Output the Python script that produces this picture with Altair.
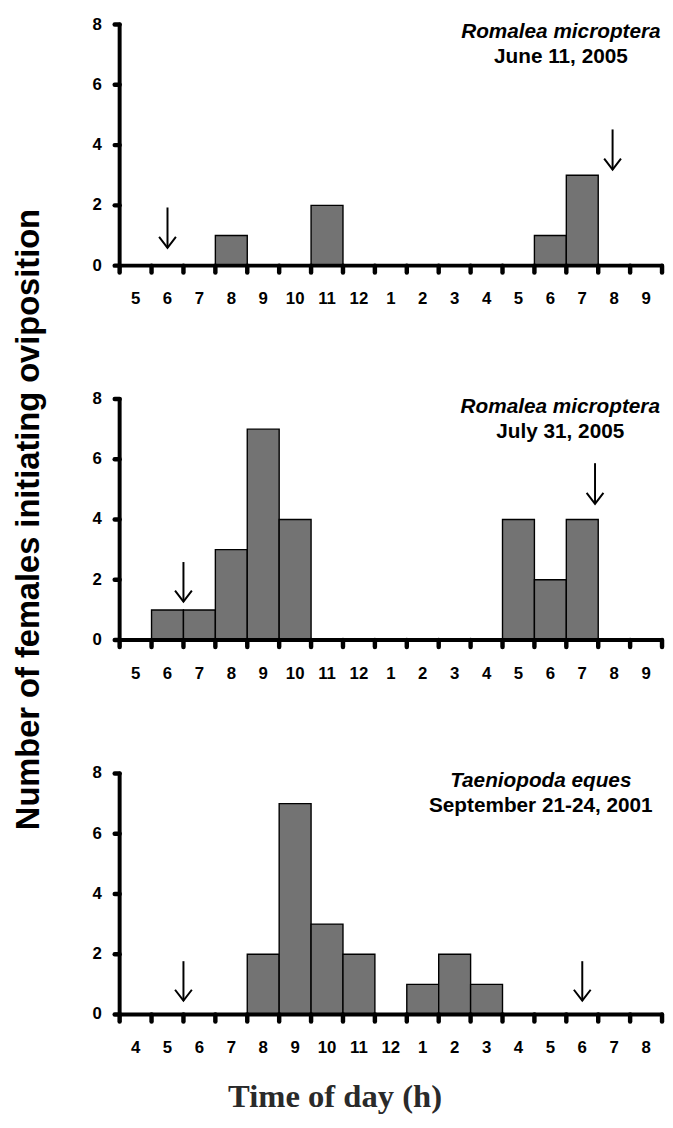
import altair as alt
import pandas as pd

# ---------------- data ----------------
labels_a = ["5", "6", "7", "8", "9", "10", "11", "12", "1", "2", "3", "4", "5", "6", "7", "8", "9"]
labels_c = ["4", "5", "6", "7", "8", "9", "10", "11", "12", "1", "2", "3", "4", "5", "6", "7", "8"]

counts_1 = [0, 0, 0, 1, 0, 0, 2, 0, 0, 0, 0, 0, 0, 1, 3, 0, 0]
counts_2 = [0, 1, 1, 3, 7, 4, 0, 0, 0, 0, 0, 0, 4, 2, 4, 0, 0]
counts_3 = [0, 0, 0, 0, 2, 7, 3, 2, 0, 1, 2, 1, 0, 0, 0, 0, 0]

# arrows (sunrise / sunset): x in bin units, y in count units
arrow_x_1 = [1.5, 15.45]
arrow_top_1 = [1.93, 4.52]
arrow_tip_1 = [0.59, 3.19]
arrow_x_2 = [2.0, 14.9]
arrow_top_2 = [2.59, 5.87]
arrow_tip_2 = [1.28, 4.52]
arrow_x_3 = [2.0, 14.5]
arrow_top_3 = [1.77, 1.77]
arrow_tip_3 = [0.46, 0.46]

species = ["Romalea microptera", "Romalea microptera", "Taeniopoda eques"]
dates = ["June 11, 2005", "July 31, 2005", "September 21-24, 2001"]
title_x = [13.83, 13.81, 13.2]

y_ticks = [0, 2, 4, 6, 8]
y_max = 8
y_title = "Number of females initiating oviposition"
x_title = "Time of day (h)"

# ---------------- layout constants ----------------
W = 549
H = 244
NB = 17
SANS = "Liberation Sans"
SERIF = "Liberation Serif"
CHEVRON = "M-1,-1.3L0,0L1,-1.3"


def panel(labels, counts, ax, atop, atip, sp, date, tx, ytitle=False, xtitle=False):
    xs = alt.Scale(domain=[0, NB], nice=False)
    ys = alt.Scale(domain=[0, y_max], nice=False)

    def X(f):
        return alt.X(f, scale=xs, axis=None)

    def Y(f):
        return alt.Y(f, scale=ys, axis=None)

    bins = pd.DataFrame({
        "start": list(range(NB)),
        "end": [i + 1 for i in range(NB)],
        "count": counts,
        "base": [0] * NB,
    })
    bars = alt.Chart(bins).transform_filter("datum.count > 0").mark_rect(
        color="#737373", stroke="black", strokeWidth=1.4, opacity=1
    ).encode(x=X("start:Q"), x2="end:Q", y=Y("count:Q"), y2="base:Q")

    arr = pd.DataFrame({"x": ax, "top": atop, "tip": atip})
    shafts = alt.Chart(arr).mark_rule(color="black", strokeWidth=2).encode(
        x=X("x:Q"), y=Y("top:Q"), y2="tip:Q")
    heads = alt.Chart(arr).mark_point(
        shape=CHEVRON, size=289, filled=False, color="black", strokeWidth=2,
        opacity=1, strokeJoin="miter"
    ).encode(x=X("x:Q"), y=Y("tip:Q"))

    # hand-drawn axes (lines, ticks, labels) through the same scales
    frame = pd.DataFrame({"x0": [0], "x1": [NB], "y0": [0], "y1": [y_max]})
    xline = alt.Chart(frame).mark_rule(color="black", strokeWidth=4, strokeCap="round").encode(
        x=X("x0:Q"), x2="x1:Q", y=Y("y0:Q"))
    yline = alt.Chart(frame).mark_rule(color="black", strokeWidth=4, strokeCap="round").encode(
        x=X("x0:Q"), y=Y("y0:Q"), y2="y1:Q")

    xt = pd.DataFrame({"v": list(range(NB + 1))})
    xticks = alt.Chart(xt).mark_rule(color="black", strokeWidth=4.5, strokeCap="round").encode(
        x=X("v:Q"), y=alt.value(H), y2=alt.value(H + 7))
    yt = pd.DataFrame({"v": y_ticks})
    yticks = alt.Chart(yt).mark_rule(color="black", strokeWidth=4.5, strokeCap="round").encode(
        y=Y("v:Q"), x=alt.value(0), x2=alt.value(-5))

    xl = pd.DataFrame({"pos": [i + 0.5 for i in range(NB)], "lab": labels})
    xlabels = alt.Chart(xl).mark_text(
        font=SANS, fontSize=17, fontWeight="bold", color="black",
        align="center", baseline="middle"
    ).encode(x=X("pos:Q"), y=alt.value(H + 34), text="lab:N")
    ylabels = alt.Chart(yt).mark_text(
        font=SANS, fontSize=17, fontWeight="bold", color="black",
        align="right", baseline="middle"
    ).encode(y=Y("v:Q"), x=alt.value(-18), text="v:Q")

    t1 = alt.Chart(pd.DataFrame({"x": [tx], "t": [sp]})).mark_text(
        font=SANS, fontSize=21, fontStyle="italic", fontWeight="bold",
        color="black", align="center", baseline="middle"
    ).encode(x=X("x:Q"), y=alt.value(8), text="t:N")
    t2 = alt.Chart(pd.DataFrame({"x": [tx], "t": [date]})).mark_text(
        font=SANS, fontSize=21, fontWeight="bold",
        color="black", align="center", baseline="middle"
    ).encode(x=X("x:Q"), y=alt.value(33), text="t:N")

    layers = [bars, shafts, heads, xline, yline, xticks, yticks, xlabels, ylabels, t1, t2]

    if ytitle:
        layers.append(alt.Chart(pd.DataFrame({"t": [y_title]})).mark_text(
            font=SANS, fontSize=33, fontWeight="bold", color="black",
            align="center", baseline="alphabetic", angle=270
        ).encode(x=alt.value(-82), y=alt.value(H / 2), text="t:N"))
    if xtitle:
        layers.append(alt.Chart(pd.DataFrame({"t": [x_title]})).mark_text(
            font=SERIF, fontSize=33, fontWeight="bold", color="#2a2a2a",
            align="center", baseline="alphabetic"
        ).encode(x=alt.value(218), y=alt.value(H + 94), text="t:N"))

    return alt.layer(*layers).properties(width=W, height=H)


p1 = panel(labels_a, counts_1, arrow_x_1, arrow_top_1, arrow_tip_1,
           species[0], dates[0], title_x[0])
p2 = panel(labels_a, counts_2, arrow_x_2, arrow_top_2, arrow_tip_2,
           species[1], dates[1], title_x[1], ytitle=True)
p3 = panel(labels_c, counts_3, arrow_x_3, arrow_top_3, arrow_tip_3,
           species[2], dates[2], title_x[2], xtitle=True)

chart = alt.vconcat(p1, p2, p3, spacing=135, bounds="flush").properties(
    padding={"left": 4, "top": 1, "right": 0, "bottom": 0},
    background="white",
).configure_view(stroke=None)

chart.save("out.html", embed_options={"renderer": "svg", "actions": False})
